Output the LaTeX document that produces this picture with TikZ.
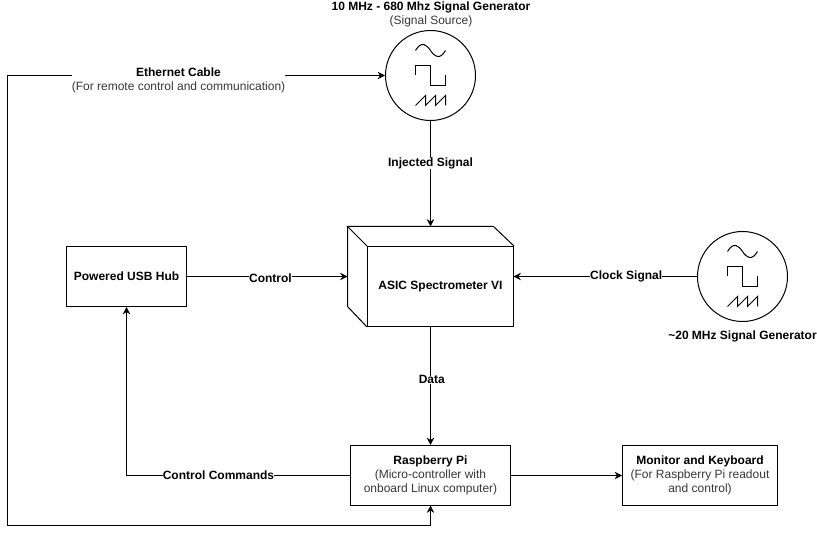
\documentclass[tikz,border=0pt]{standalone}
\usepackage{fontspec}
\setmainfont{Liberation Sans}
\usetikzlibrary{positioning,arrows.meta}
\newcommand{\bfs}{\fontsize{9pt}{10.5pt}\selectfont\bfseries}
\newcommand{\nrm}{\fontsize{9pt}{10.5pt}\selectfont\mdseries\color{black!78}}
\tikzset{
  blockbox/.style={rectangle,draw,line width=0.75pt,align=center,font=\nrm,inner sep=0pt},
  siggen/.style={circle,draw,line width=0.75pt,minimum size=67.5pt,inner sep=0pt},
  lbl/.style={fill=white,align=center,font=\bfs,inner sep=0pt},
  wire/.style={line width=0.75pt,->},
  wavesym/.pic={
    \draw[line width=0.75pt] (-15,-25) .. controls (-9,-35) and (-4,-31) .. (0,-25) .. controls (4,-19) and (9,-15) .. (15,-25);
    \draw[line width=0.75pt] (-15,0) -- (-15,-10) -- (0,-10) -- (0,10) -- (15,10) -- (15,0);
    \draw[line width=0.75pt] (-15,30) -- (-5,20) -- (-5,30) -- (5,20) -- (5,30) -- (15,20) -- (15,30);
  }
}
\begin{document}
\begin{tikzpicture}[>={Stealth[length=5.5pt,width=5.5pt]},x=0.75pt,y=-0.75pt]
    \useasboundingbox[fill=white] (0,0) rectangle (817,534);

    \node[siggen] (gen1) at (430.5,75.5) {};
    \node[siggen] (gen2) at (742.5,276.5) {};
    \pic at (gen1) {wavesym};
    \pic at (gen2) {wavesym};
    \node[font=\bfs] (gen1title) at (431,7) {10 MHz - 680 Mhz Signal Generator};
    \node[font=\nrm] (gen1sub) at (431,21) {(Signal Source)};
    \node[font=\bfs] (gen2title) at (742.5,336) {\textasciitilde20 MHz Signal Generator};

    % spectrometer
    \node[blockbox,minimum width=109.5pt,minimum height=60pt,font=\bfs] (asic) at (440.5,286.5) {ASIC Spectrometer VI};
    \draw[line width=0.75pt] (asic.north west) -- (347.5,226.5) -- (493.5,226.5) -- (asic.north east);
    \draw[line width=0.75pt] (347.5,226.5) -- (347.5,306.5) -- (asic.south west);
    \coordinate (asictop) at (430.5,226.5);
    \coordinate (asicleft) at (347.5,276.5);
    \coordinate (asicright) at (513.5,276.5);
    \coordinate (asicbot) at (430.5,326.5);

    \node[blockbox,minimum width=90pt,minimum height=45pt,font=\bfs] (hub) at (126.5,276.5) {Powered USB Hub};
    \node[blockbox,minimum width=120pt,minimum height=45pt] (pi) at (430.5,475.5) {{\bfs\color{black} Raspberry Pi}\\(Micro-controller with\\onboard Linux computer)};
    \node[blockbox,minimum width=116.25pt,minimum height=45pt] (mon) at (700,475.5) {{\bfs\color{black} Monitor and Keyboard}\\(For Raspberry Pi readout\\and control)};

    \coordinate (piin) at (430.5,505.5);
    \coordinate (ethbot) at (7.5,525.5);
    \coordinate (ethtop) at (7.5,75.5);

    \draw[wire] (gen1) -- node[lbl,pos=0.40]{Injected Signal} (asictop);
    \draw[wire] (hub) -- node[lbl,pos=0.52,yshift=-1.5pt]{Control} (asicleft);
    \draw[wire] (gen2) -- node[lbl,pos=0.386]{Clock Signal} (asicright);
    \draw[wire] (asicbot) -- node[lbl,pos=0.45,xshift=1pt]{Data} (pi);
    \draw[wire] (pi) -- (mon);
    \draw[wire] (pi.west) -| (hub.south);
    \draw[line width=0.75pt,<->] (gen1.west) -- (ethtop) -- (ethbot) -| (piin);

    \node[lbl] (ethlbl) at (178.5,80) {{\bfs Ethernet Cable}\\{\nrm (For remote control and communication)}};
    \node[lbl] (cmdlbl) at (218.5,475.5) {Control Commands};
\end{tikzpicture}
\end{document}
